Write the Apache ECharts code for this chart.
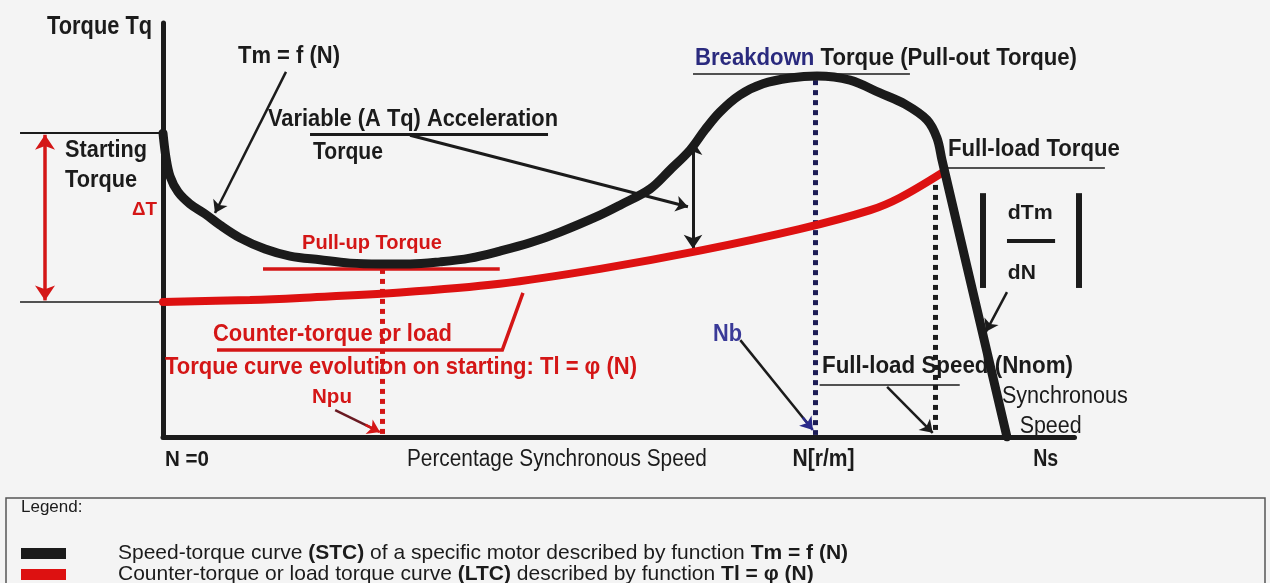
<!DOCTYPE html>
<html><head><meta charset="utf-8">
<script src="https://cdn.jsdelivr.net/npm/echarts@6/dist/echarts.min.js"></script>
<style>html,body{margin:0;padding:0;background:#f4f4f4;}#c{width:1270px;height:583px;}</style>
</head><body><div id="c"></div>
<script>
// ---------- data: x = % synchronous speed, y = torque (relative units) ----------
const stcSpeed  = [0, 0.36, 0.83, 1.78, 3.2, 4.98, 6.75, 9.12, 12.09, 15.05, 18.6, 22.16, 25.71, 29.27, 32.82, 36.37, 39.93, 43.48, 47.04, 51.78, 54.15, 57.7, 60.07, 62.44, 64.22, 65.99, 68.36, 71.09, 74.29, 77.49, 81.4, 84.95, 87.91, 90.52, 91.71, 92.3, 100];
const stcTorque = [73.4, 67.4, 63.0, 59.2, 56.3, 53.9, 51.2, 48.1, 45.4, 43.7, 42.8, 42.0, 41.8, 41.8, 42.3, 43.2, 44.9, 46.9, 49.5, 53.6, 56.0, 59.9, 64.5, 69.3, 74.2, 78.5, 82.6, 85.3, 86.7, 87.2, 86.2, 83.1, 80.4, 76.6, 72.2, 66.9, 0];
const ltcSpeed  = [0, 10.3, 16.2, 28.1, 39.9, 51.8, 63.6, 75.4, 83.8, 87.3, 92.3];
const ltcTorque = [32.6, 33.1, 33.6, 34.9, 37.0, 40.6, 45.0, 50.2, 54.8, 57.8, 63.8];
// key operating points
const nPullUp = 25.95, nBreakdown = 77.25, nFullLoad = 91.5;
const tStart = 73.4, tLoad0 = 32.6, tPullUp = 40.6, tBreakdownLine = 86.2, tFullLoad = 63.3;
const seriesNames = ['STC', 'LTC'];
const legendTexts = {
  STC: 'Speed-torque curve {b|(STC)} of a specific motor described by function {b|Tm = f (N)}',
  LTC: 'Counter-torque or load torque curve {b|(LTC)} described by function {b|Tl = φ (N)}'
};

const F = "'Liberation Sans', Arial, Helvetica, sans-serif";
const BK = '#1b1b1b', RD = '#d41616', NV = '#2a2a7e', NB = '#3a3a98', DOT_NV = '#1c1c55';

// annotation texts: parts, anchor (data coords: left, middle), target width, font size
const labels = [
  {t:[['Torque Tq','bold',BK]], at:[-13.74, 99.0], w:105, s:25},
  {t:[['Tm = f (N)','bold',BK]], at:[8.89, 91.8], w:102, s:23},
  {t:[['Variable (A Tq) Acceleration','bold',BK]], at:[12.44, 76.6], w:290, s:23},
  {t:[['Torque','bold',BK]], at:[17.77, 68.8], w:70, s:23},
  {t:[['Breakdown','bold',NV],[' Torque (Pull-out Torque)','bold',BK]], at:[63.03, 91.5], w:382, s:23},
  {t:[['Starting','bold',BK]], at:[-11.6, 69.3], w:82, s:24},
  {t:[['Torque','bold',BK]], at:[-11.6, 62.1], w:72, s:24},
  {t:[['ΔT','bold',RD]], at:[-3.67, 54.8], w:25, s:19},
  {t:[['Pull-up Torque','bold',RD]], at:[16.47, 46.9], w:140, s:21},
  {t:[['Counter-torque or load','bold',RD]], at:[5.92, 24.6], w:239, s:23},
  {t:[['Torque curve evolution on starting: Tl = φ (N)','bold',RD]], at:[0.24, 16.7], w:472, s:24},
  {t:[['Npu','bold',RD]], at:[17.65, 9.66], w:40, s:21},
  {t:[['Nb','bold',NB]], at:[65.17, 24.6], w:29, s:23},
  {t:[['Full-load Speed (Nnom)','bold',BK]], at:[78.08, 16.9], w:251, s:23},
  {t:[['Synchronous','normal',BK]], at:[99.4, 9.66], w:126, s:23},
  {t:[['Speed','normal',BK]], at:[101.5, 2.42], w:62, s:23},
  {t:[['Full-load Torque','bold',BK]], at:[93.0, 69.3], w:172, s:23},
  {t:[['dTm','bold',BK]], at:[100.1, 54.1], w:45, s:21},
  {t:[['dN','bold',BK]], at:[100.1, 39.6], w:28, s:21},
  {t:[['N =0','bold',BK]], at:[0.24, -5.56], w:44, s:22},
  {t:[['Percentage Synchronous Speed','normal',BK]], at:[28.9, -5.56], w:300, s:23},
  {t:[['N[r/m]','bold',BK]], at:[74.6, -5.56], w:62, s:23},
  {t:[['Ns','bold',BK]], at:[103.1, -5.56], w:25, s:23}
];

// annotation line geometry (data coords)
const plainBlack = [
  {c:[[17.42,73.2],[45.62,73.2]], w:3},
  {c:[[62.8,87.7],[88.5,87.7]], w:1.5},
  {c:[[77.8,12.6],[94.4,12.6]], w:1.5},
  {c:[[92.9,65.0],[111.6,65.0]], w:1.5},
  {c:[[-16.94,tStart],[0,tStart]], w:2},
  {c:[[-16.94,tLoad0],[0,tLoad0]], w:1.5},
  {c:[[100,47.3],[105.7,47.3]], w:4},
  {c:[[97.16,58.9],[97.16,36.0]], w:6},
  {c:[[108.5,58.9],[108.5,36.0]], w:6},
  {c:[[68.4,23.4],[76.6,2.7]], w:2.5},
  {c:[[20.4,6.5],[25.0,1.9]], w:2.5, col:'#6a1a22'}
];
const blackArrows = [
  {c:[[14.57,88.2],[6.16,54.1]], w:2.5},
  {c:[[29.27,72.9],[62.2,55.6]], w:3},
  {c:[[85.8,12.1],[91.2,1.0]], w:2.5},
  {c:[[100,35.0],[97.5,25.4]], w:2.5}
];
const navyArrows = [{c:[[75.8,4.7],[77.0,1.7]], w:2.5}];
const redArrows = [{c:[[24.0,2.9],[25.7,1.2]], w:2.5}];
const blackDouble = [{c:[[62.8,71.5],[62.8,45.5]], w:3}];
const redDouble = [{c:[[-13.98,73.0],[-13.98,33.0]], w:3.5}];
const redPlain = [
  {c:[[11.85,tPullUp],[39.9,tPullUp]], w:3.5},
  {c:[[6.4,21.0],[40.2,21.0],[42.65,34.8]], w:3.5}
];
const dotted = [
  {c:[[nPullUp,tPullUp],[nPullUp,0.5]], col:RD},
  {c:[[nBreakdown,tBreakdownLine],[nBreakdown,0.5]], col:DOT_NV},
  {c:[[nFullLoad,tFullLoad],[nFullLoad,0.5]], col:BK}
];

function linesSeries(items, color, opt) {
  opt = opt || {};
  return {
    type:'lines', coordinateSystem:'cartesian2d', clip:false, silent:true,
    polyline: !!opt.polyline, z: opt.z || 4,
    symbol: opt.symbol || 'none', symbolSize: opt.size || 11,
    lineStyle: {color: color, width: 2, type: opt.type || 'solid', cap: opt.cap || 'butt', opacity: 1},
    data: items.map(it => ({coords: it.c, lineStyle: {width: it.w || opt.width || 2, color: it.col || color}}))
  };
}

const legendCommon = {
  orient:'horizontal', left:21, icon:'rect', itemWidth:45, itemHeight:11, itemGap:0,
  selectedMode:false, padding:0,
  formatter: name => '{sp| }' + legendTexts[name],
  textStyle:{fontFamily:F, fontSize:21, color:BK, lineHeight:21,
    rich:{sp:{width:47, fontSize:21, fontFamily:F}, b:{fontWeight:'bold', fontSize:21, fontFamily:F, color:BK}}}
};

const chart = echarts.init(document.getElementById('c'), null, {renderer:'canvas'});
const option = {
  backgroundColor:'#f4f4f4',
  animation:false,
  grid:{left:163, top:23, right:195.5, bottom:146, outerBoundsMode:'none', containLabel:false},
  xAxis:{type:'value', min:0, max:108, axisLine:{show:true, lineStyle:{color:BK, width:5}}, axisTick:{show:false}, axisLabel:{show:false}, splitLine:{show:false}},
  yAxis:{type:'value', min:0, max:100, axisLine:{show:true, lineStyle:{color:BK, width:5}}, axisTick:{show:false}, axisLabel:{show:false}, splitLine:{show:false}},
  legend:[
    Object.assign({}, legendCommon, {data:[seriesNames[0]], top:543}),
    Object.assign({}, legendCommon, {data:[seriesNames[1]], top:564})
  ],
  series:[
    {name:'STC', type:'line', data: stcSpeed.map((x,i)=>[x, stcTorque[i]]), smooth:0.35, symbol:'none', z:6,
     lineStyle:{color:BK, width:9, cap:'round', join:'round'}, itemStyle:{color:BK}},
    {name:'LTC', type:'line', data: ltcSpeed.map((x,i)=>[x, ltcTorque[i]]), smooth:0.35, symbol:'none', z:5,
     lineStyle:{color:'#dd1111', width:8, cap:'round'}, itemStyle:{color:'#dd1111'}},
    linesSeries(dotted, BK, {type:[5,5], width:5, z:3}),
    linesSeries(plainBlack, BK, {}),
    linesSeries(blackArrows, BK, {symbol:['none','arrow'], size:12}),
    linesSeries(navyArrows, '#2a2a8a', {symbol:['none','arrow'], size:12}),
    linesSeries(redArrows, '#d41616', {symbol:['none','arrow'], size:12}),
    linesSeries(blackDouble, BK, {symbol:['arrow','arrow'], size:14}),
    linesSeries(redDouble, RD, {symbol:['arrow','arrow'], size:15}),
    linesSeries(redPlain, RD, {polyline:true})
  ]
};
chart.setOption(option);

// text annotations placed through the chart's own coordinate conversion
const ctx = document.createElement('canvas').getContext('2d');
function mk(L) {
  const p = chart.convertToPixel({gridIndex:0}, L.at);
  let total = 0, text = '', rich = {};
  L.t.forEach((part, i) => {
    const [s, wt, col] = part;
    ctx.font = wt + ' ' + L.s + 'px ' + F;
    total += ctx.measureText(s).width;
    rich['p'+i] = {fontFamily:F, fontSize:L.s, fontWeight:wt, fill:col};
    text += '{p'+i+'|' + s + '}';
  });
  return {type:'text', x:p[0], y:p[1], scaleX: L.w / total, silent:true, z:10,
    style:{text:text, rich:rich, fontFamily:F, fontSize:L.s, verticalAlign:'middle', align:'left'}};
}
const g = labels.map(mk);
// legend frame
g.push({type:'rect', shape:{x:6, y:498, width:1259, height:100}, silent:true, z:1,
  style:{fill:'none', stroke:'#555', lineWidth:1.5}});
g.push({type:'text', x:21, y:507, silent:true, z:10,
  style:{text:'Legend:', fontFamily:F, fontSize:17, fill:BK, verticalAlign:'middle', align:'left'}});
chart.setOption({graphic:g});
</script></body></html>
